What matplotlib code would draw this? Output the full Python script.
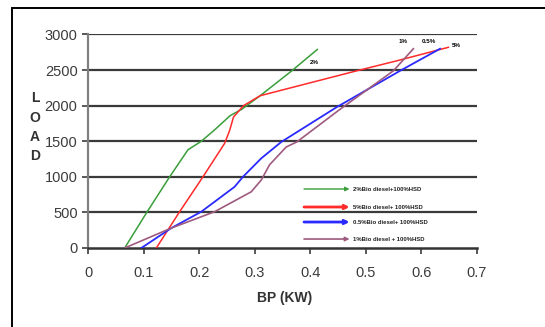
import matplotlib
matplotlib.use("Agg")
import matplotlib.pyplot as plt
from matplotlib.patches import Rectangle

plt.rcParams["font.family"] = ["Liberation Sans", "DejaVu Sans"]

# BP (KW) vs load for each blend
green_x = [0.066, 0.105, 0.147, 0.180, 0.204, 0.228, 0.256, 0.277, 0.310, 0.367, 0.413]
green_y = [0, 490, 1000, 1380, 1500, 1660, 1860, 1950, 2140, 2490, 2790]
red_x = [0.123, 0.165, 0.207, 0.246, 0.255, 0.262, 0.280, 0.310, 0.484, 0.556, 0.649]
red_y = [0, 510, 1000, 1470, 1650, 1840, 2000, 2140, 2490, 2630, 2820]
blue_x = [0.096, 0.150, 0.204, 0.264, 0.279, 0.312, 0.348, 0.448, 0.562, 0.634]
blue_y = [0, 280, 510, 860, 1000, 1260, 1490, 1980, 2490, 2800]
purple_x = [0.066, 0.150, 0.228, 0.294, 0.312, 0.327, 0.357, 0.376, 0.454, 0.550, 0.586]
purple_y = [0, 280, 510, 790, 955, 1170, 1420, 1490, 1950, 2490, 2800]

legend_labels = ["2%Bio diesel+100%HSD", "5%Bio diesel+ 100%HSD",
                 "0.5%Bio diesel+ 100%HSD", "1%Bio diesel + 100%HSD"]
end_labels = ["2%", "5%", "0.5%", "1%"]
x_ticks = [0, 0.1, 0.2, 0.3, 0.4, 0.5, 0.6, 0.7]
y_ticks = [0, 500, 1000, 1500, 2000, 2500, 3000]

colors = ["#3a9e3a", "#ff2a2a", "#2a2aff", "#9e5a7e"]
widths = [1.1, 1.1, 1.3, 1.2]

fig = plt.figure(figsize=(5.45, 3.27), dpi=100)
ax = fig.add_axes([0.1615, 0.2416, 0.8747 - 0.1615, 0.8945 - 0.2416])

# outer frame (only top/left visible in the crop)
fig.patches.append(Rectangle((12 / 545, -0.2), 1.2, 1 - 8 / 327 + 0.2,
                             transform=fig.transFigure, fill=False,
                             edgecolor="black", lw=1.4))

for yv in y_ticks[1:]:
    ax.axhline(yv, color="#3a3a3a", lw=1.6, zorder=1)

series = [(green_x, green_y), (red_x, red_y), (blue_x, blue_y), (purple_x, purple_y)]
for (xs, ys), c, w in zip(series, colors, widths):
    ax.plot(xs, ys, color=c, lw=w, zorder=3)

# labels at curve ends
ax.text(0.407, 2610, end_labels[0], fontsize=4.5, ha="center", va="center", fontweight="bold")
ax.text(0.663, 2845, end_labels[1], fontsize=4.5, ha="center", va="center", fontweight="bold")
ax.text(0.614, 2905, end_labels[2], fontsize=4.5, ha="center", va="center", fontweight="bold")
ax.text(0.568, 2905, end_labels[3], fontsize=4.5, ha="center", va="center", fontweight="bold")

# arrow legend
leg_y = [829, 576, 365, 126]
leg_w = [1.0, 2.0, 2.0, 1.2]
for lab, c, yv, w in zip(legend_labels, colors, leg_y, leg_w):
    ax.annotate("", xy=(0.471, yv), xytext=(0.389, yv),
                arrowprops=dict(arrowstyle="-|>", color=c, lw=w,
                                mutation_scale=6, shrinkA=0, shrinkB=0))
    ax.text(0.478, yv, lab, fontsize=4.3, ha="left", va="center",
            color="#222222", fontweight="bold")

ax.set_xlim(0, 0.7)
ax.set_ylim(0, 3000)
ax.set_xticks(x_ticks)
ax.set_xticklabels(["0", "0.1", "0.2", "0.3", "0.4", "0.5", "0.6", "0.7"])
ax.set_yticks(y_ticks)
ax.tick_params(axis="both", labelsize=10.5, colors="#3c3c3c", length=4, width=1.2)
ax.tick_params(axis="x", pad=9)
for s in ["top", "right"]:
    ax.spines[s].set_visible(False)
ax.spines["left"].set_color("#808080")
ax.spines["left"].set_linewidth(1.6)
ax.spines["bottom"].set_color("#333333")
ax.spines["bottom"].set_linewidth(1.8)

fig.text(285 / 545, 1 - 298 / 327, "BP (KW)", fontsize=10, fontweight="bold",
         ha="center", va="center", color="#333333")
for i, ch in enumerate("LOAD"):
    fig.text(35 / 545, 1 - (98 + i * 19.5) / 327, ch, fontsize=10,
             fontweight="bold", ha="center", va="center", color="#333333")

fig.savefig("out.png", dpi=100)
